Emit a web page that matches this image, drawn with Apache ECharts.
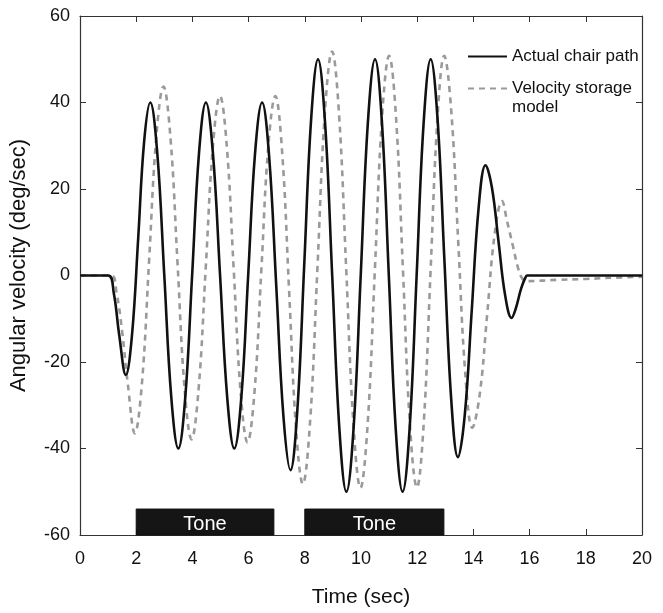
<!DOCTYPE html>
<html>
<head>
<meta charset="utf-8">
<script src="https://cdn.jsdelivr.net/npm/echarts@6/dist/echarts.min.js"></script>
<style>html,body{margin:0;padding:0;background:#fff}#c{width:663px;height:613px}</style>
</head>
<body>
<div id="c"></div>
<script>
// Actual chair path [time (s), angular velocity (deg/s)]
var chairPath = [
  [0,0],[1.0,0],[1.2,-4],[1.4,-14],[1.63,-23],
  [1.85,-13.8],[2.07,8.5],[2.28,30.8],[2.5,40],
  [2.75,28.3],[3.0,0],[3.25,-28.3],[3.5,-40],
  [3.745,-28.3],[3.99,0],[4.235,28.3],[4.48,40],
  [4.73,28.3],[4.985,0],[5.24,-28.3],[5.49,-40],
  [5.74,-28.3],[5.985,0],[6.23,28.3],[6.48,40],
  [6.73,27.6],[6.985,-2.5],[7.24,-32.6],[7.49,-45],
  [7.735,-31.1],[7.98,2.5],[8.225,36.1],[8.47,50],
  [8.72,35.4],[8.975,0],[9.23,-35.4],[9.48,-50],
  [9.735,-35.4],[9.99,0],[10.245,35.4],[10.5,50],
  [10.745,35.4],[10.99,0],[11.235,-35.4],[11.48,-50],
  [11.73,-35.4],[11.98,0],[12.23,35.4],[12.48,50],
  [12.72,36.6],[12.965,4],[13.21,-28.6],[13.45,-42],
  [13.695,-32.1],[13.94,-8.2],[14.185,15.6],[14.43,25.5],
  [14.66,20.3],[14.895,7.8],[15.13,-4.6],[15.36,-9.8],
  [15.5,-7.8],[15.7,-3],[15.85,-0.5],[15.92,0],[20,0]
];
// Velocity storage model
var storageModel = [
  [0,0],[1.1,0],[1.3,-4],[1.5,-13],[1.7,-25],[1.95,-36.5],
  [2.205,-24.8],[2.46,3.6],[2.715,32],[2.97,43.7],
  [3.22,31.8],[3.47,2.9],[3.72,-26],[3.97,-37.9],
  [4.22,-26.3],[4.475,1.8],[4.73,29.9],[4.98,41.5],
  [5.225,29.8],[5.47,1.4],[5.715,-26.9],[5.96,-38.6],
  [6.21,-26.9],[6.455,1.4],[6.70,29.8],[6.95,41.5],
  [7.195,28.4],[7.44,-3.3],[7.685,-35.1],[7.93,-48.2],
  [8.19,-33.6],[8.45,1.8],[8.71,37.2],[8.97,51.8],
  [9.22,37.1],[9.475,1.3],[9.73,-34.4],[9.98,-49.1],
  [10.235,-34.5],[10.49,0.8],[10.745,36.2],[11.0,50.8],
  [11.25,36.2],[11.495,0.9],[11.74,-34.4],[11.99,-49],
  [12.23,-34.4],[12.475,0.9],[12.72,36.2],[12.96,50.8],
  [13.21,38.2],[13.46,7.8],[13.71,-22.6],[13.96,-35.2],
  [14.225,-27.5],[14.49,-9],[14.755,9.5],[15.02,17.2],
  [15.2,12.5],[15.4,7],[15.6,1.5],[15.75,-0.8],[15.9,-1.3],
  [17,-1.0],[18,-0.8],[19,-0.5],[20,-0.3]
];
// Tone periods [start, end] (s)
var toneStart = [2.0, 8.0];
var toneEnd = [6.9, 12.95];
var toneLabel = 'Tone';
var toneBottom = -60, toneTop = -54;

var seriesNames = ['Actual chair path', 'Velocity storage model'];
var legendLabels = ['Actual chair path', '\nVelocity storage\nmodel'];
var xTicks = {min: 0, max: 20, interval: 2};
var yTicks = {min: -60, max: 60, interval: 20};

var FONT = '"Liberation Sans", Arial, Helvetica, sans-serif';
var axisColor = '#333';

var toneAreas = toneStart.map(function (s, i) {
  return [{xAxis: s, yAxis: toneBottom, name: toneLabel}, {xAxis: toneEnd[i], yAxis: toneTop}];
});

var chart = echarts.init(document.getElementById('c'), null, {renderer: 'canvas'});
chart.setOption({
  animation: false,
  backgroundColor: '#fff',
  textStyle: {fontFamily: FONT},
  grid: {left: 78, top: 16, right: 21, bottom: 75, containLabel: false},
  legend: {
    orient: 'vertical',
    left: 467,
    top: 47,
    padding: 0,
    itemGap: -6,
    itemWidth: 39,
    itemHeight: 14,
    itemStyle: {opacity: 0},
    textStyle: {fontFamily: FONT, fontSize: 17, color: '#111', lineHeight: 19},
    formatter: function (n) { return legendLabels[seriesNames.indexOf(n)]; },
    data: seriesNames
  },
  xAxis: [{
    type: 'value', min: xTicks.min, max: xTicks.max, interval: xTicks.interval,
    name: 'Time (sec)', nameLocation: 'middle', nameGap: 52,
    nameTextStyle: {fontFamily: FONT, fontSize: 21, color: '#111'},
    axisLine: {onZero: false, lineStyle: {color: axisColor, width: 1.2}},
    axisTick: {inside: true, length: 6, lineStyle: {color: axisColor}},
    axisLabel: {fontFamily: FONT, fontSize: 18, color: '#111', margin: 15},
    splitLine: {show: false}
  }, {
    type: 'value', position: 'top', min: xTicks.min, max: xTicks.max, interval: xTicks.interval,
    axisLine: {onZero: false, lineStyle: {color: axisColor, width: 1.2}},
    axisTick: {inside: true, length: 6, lineStyle: {color: axisColor}},
    axisLabel: {show: false}, splitLine: {show: false}
  }],
  yAxis: [{
    type: 'value', min: yTicks.min, max: yTicks.max, interval: yTicks.interval,
    name: 'Angular velocity (deg/sec)', nameLocation: 'middle', nameGap: 50,
    nameTextStyle: {fontFamily: FONT, fontSize: 22, color: '#111', padding: [0, 0, 0, 20]},
    axisLine: {onZero: false, lineStyle: {color: axisColor, width: 1.2}},
    axisTick: {inside: true, length: 6, lineStyle: {color: axisColor}},
    axisLabel: {fontFamily: FONT, fontSize: 18, color: '#111', margin: 10},
    splitLine: {show: false}
  }, {
    type: 'value', position: 'right', min: yTicks.min, max: yTicks.max, interval: yTicks.interval,
    axisLine: {onZero: false, lineStyle: {color: axisColor, width: 1.2}},
    axisTick: {inside: true, length: 6, lineStyle: {color: axisColor}},
    axisLabel: {show: false}, splitLine: {show: false}
  }],
  series: [{
    name: seriesNames[1], type: 'line', data: storageModel, smooth: 0.4,
    showSymbol: false, symbol: 'none', z: 2,
    lineStyle: {color: '#9a9a9a', width: 2.6, type: [6, 5]},
    itemStyle: {color: '#9a9a9a'}
  }, {
    name: seriesNames[0], type: 'line', data: chairPath, smooth: 0.4,
    showSymbol: false, symbol: 'none', z: 3,
    lineStyle: {color: '#111', width: 2.6},
    itemStyle: {color: '#111'},
    markArea: {
      silent: true,
      itemStyle: {color: '#151515', opacity: 1, borderColor: '#111', borderWidth: 1},
      label: {show: true, position: 'inside', color: '#fff', fontFamily: FONT, fontSize: 20, offset: [0, 2]},
      data: toneAreas
    }
  }]
});
</script>
</body>
</html>
